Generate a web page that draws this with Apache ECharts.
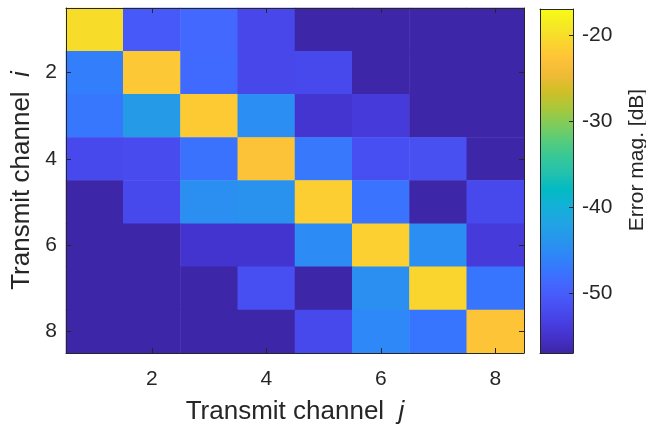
<!DOCTYPE html>
<html>
<head>
<meta charset="utf-8">
<script src="https://cdn.jsdelivr.net/npm/echarts@6/dist/echarts.min.js"></script>
<style>
  html, body { margin: 0; padding: 0; background: #fff; }
  #chart { width: 646px; height: 431px; }
</style>
</head>
<body>
<div id="chart"></div>
<script>
// Transmit channel indices (rows i, columns j)
const channelsI = ['1', '2', '3', '4', '5', '6', '7', '8'];
const channelsJ = ['1', '2', '3', '4', '5', '6', '7', '8'];

// Error magnitude in dB, one array per transmit channel i (columns j = 1..8)
const row1 = [-20.2, -50.5, -48.9, -52.5, -57.0, -57.0, -57.0, -57.0];
const row2 = [-46.5, -22.2, -48.6, -52.5, -52.3, -57.0, -57.0, -57.0];
const row3 = [-47.3, -43.0, -22.0, -44.7, -54.7, -54.0, -57.0, -57.0];
const row4 = [-52.3, -52.0, -47.8, -23.0, -47.2, -51.6, -51.5, -57.0];
const row5 = [-57.0, -52.3, -44.6, -44.2, -21.6, -47.7, -57.0, -52.3];
const row6 = [-57.0, -57.0, -54.8, -54.8, -45.1, -21.4, -44.7, -54.0];
const row7 = [-57.0, -57.0, -57.0, -51.6, -57.0, -44.5, -20.9, -47.5];
const row8 = [-57.0, -57.0, -57.0, -57.0, -52.3, -45.5, -47.5, -22.6];
const rows = [row1, row2, row3, row4, row5, row6, row7, row8];

// Colour scale limits and colorbar ticks
const colorRange = [-57, -17];
const colorbarTicks = [-50, -40, -30, -20];

// Parula colour map stops
const parula = [
  '#3E26A8', '#4432CB', '#4741E5', '#4852F4', '#4563FD', '#3875FE',
  '#2E87F7', '#2796EB', '#20A5E3', '#12B1D6', '#02BAC3', '#24C1AE',
  '#37C897', '#57CC7A', '#81CC59', '#ABC739', '#D1BF27', '#F0BA36',
  '#FEC338', '#FAD62D', '#F5E924', '#F9FB15'
];

const heatData = [];
rows.forEach((r, i) => r.forEach((v, j) => heatData.push([j, i, v])));

const ink = '#262626';
const font = '"Liberation Sans", Arial, Helvetica, sans-serif';
const everyOther = (idx) => idx % 2 === 1;
const frameLine = { show: true, onZero: false, lineStyle: { color: ink, width: 1 } };
const titleStyle = {
  fontSize: 26, color: ink, fontFamily: font,
  rich: {
    t: { fontSize: 26, color: ink, fontFamily: font },
    v: { fontSize: 26, color: ink, fontFamily: font, fontStyle: 'italic' }
  }
};

const chart = echarts.init(document.getElementById('chart'), null, { renderer: 'canvas' });

const option = {
  animation: false,
  backgroundColor: '#ffffff',
  textStyle: { fontFamily: font, color: ink },
  grid: [
    { left: 66, top: 8, width: 458, height: 345 },
    { left: 540, top: 9, width: 33, height: 344 }
  ],
  visualMap: {
    type: 'continuous',
    show: false,
    seriesIndex: 0,
    dimension: 2,
    min: colorRange[0],
    max: colorRange[1],
    inRange: { color: parula }
  },
  xAxis: [
    {
      gridIndex: 0, type: 'category', data: channelsJ, position: 'bottom', z: 10,
      axisLine: frameLine,
      axisTick: { show: true, inside: true, length: 5, alignWithLabel: true, interval: everyOther, lineStyle: { color: ink } },
      axisLabel: { interval: everyOther, fontSize: 21, color: ink, fontFamily: font, margin: 16 },
      splitLine: { show: false },
      name: '{t|Transmit channel}  {v|j}',
      nameLocation: 'middle',
      nameGap: 46,
      nameTextStyle: titleStyle
    },
    {
      gridIndex: 0, type: 'category', data: channelsJ, position: 'top', z: 10,
      axisLine: frameLine,
      axisTick: { show: true, inside: true, length: 5, alignWithLabel: true, interval: everyOther, lineStyle: { color: ink } },
      axisLabel: { show: false },
      splitLine: { show: false }
    },
    {
      gridIndex: 1, type: 'value', min: 0, max: 1, position: 'bottom', z: 10,
      axisLine: frameLine, axisTick: { show: false }, axisLabel: { show: false }, splitLine: { show: false }
    },
    {
      gridIndex: 1, type: 'value', min: 0, max: 1, position: 'top', z: 10,
      axisLine: frameLine, axisTick: { show: false }, axisLabel: { show: false }, splitLine: { show: false }
    }
  ],
  yAxis: [
    {
      gridIndex: 0, type: 'category', data: channelsI, inverse: true, position: 'left', z: 10,
      axisLine: frameLine,
      axisTick: { show: true, inside: true, length: 5, alignWithLabel: true, interval: everyOther, lineStyle: { color: ink } },
      axisLabel: { interval: everyOther, fontSize: 21, color: ink, fontFamily: font, margin: 9 },
      splitLine: { show: false },
      name: '{t|Transmit channel}  {v|i}',
      nameLocation: 'middle',
      nameGap: 28,
      nameTextStyle: titleStyle
    },
    {
      gridIndex: 0, type: 'category', data: channelsI, inverse: true, position: 'right', z: 10,
      axisLine: frameLine,
      axisTick: { show: true, inside: true, length: 5, alignWithLabel: true, interval: everyOther, lineStyle: { color: ink } },
      axisLabel: { show: false },
      splitLine: { show: false }
    },
    {
      gridIndex: 1, type: 'value', min: colorRange[0], max: colorRange[1], position: 'left', z: 10,
      axisLine: frameLine, axisTick: { show: false }, axisLabel: { show: false }, splitLine: { show: false }
    },
    {
      gridIndex: 1, type: 'value', min: colorRange[0], max: colorRange[1], position: 'right', z: 10,
      axisLine: frameLine,
      axisTick: { show: true, inside: true, length: 4, customValues: colorbarTicks, lineStyle: { color: ink } },
      axisLabel: { show: true, customValues: colorbarTicks, fontSize: 21, color: ink, fontFamily: font, margin: 9 },
      splitLine: { show: false }
    }
  ],
  series: [
    {
      type: 'heatmap',
      xAxisIndex: 0,
      yAxisIndex: 0,
      data: heatData,
      progressive: 0,
      itemStyle: { borderWidth: 0 },
      emphasis: { disabled: true }
    },
    {
      // colour bar: a single gradient strip spanning the colour range
      type: 'custom',
      xAxisIndex: 2,
      yAxisIndex: 3,
      silent: true,
      data: [[0, 1, colorRange[0], colorRange[1]]],
      renderItem: function (params, api) {
        const p0 = api.coord([api.value(0), api.value(3)]);
        const p1 = api.coord([api.value(1), api.value(2)]);
        const stops = parula.map((c, k) => ({ offset: k / (parula.length - 1), color: c }));
        return {
          type: 'rect',
          shape: { x: p0[0], y: p0[1], width: p1[0] - p0[0], height: p1[1] - p0[1] },
          style: { fill: new echarts.graphic.LinearGradient(0, 1, 0, 0, stops) }
        };
      }
    }
  ],
  graphic: [
    {
      type: 'text',
      x: 637,
      y: 160,
      rotation: Math.PI / 2,
      style: {
        text: 'Error mag. [dB]',
        fontSize: 21,
        fontFamily: font,
        fill: ink,
        align: 'center',
        verticalAlign: 'middle'
      }
    }
  ]
};

chart.setOption(option);
</script>
</body>
</html>
